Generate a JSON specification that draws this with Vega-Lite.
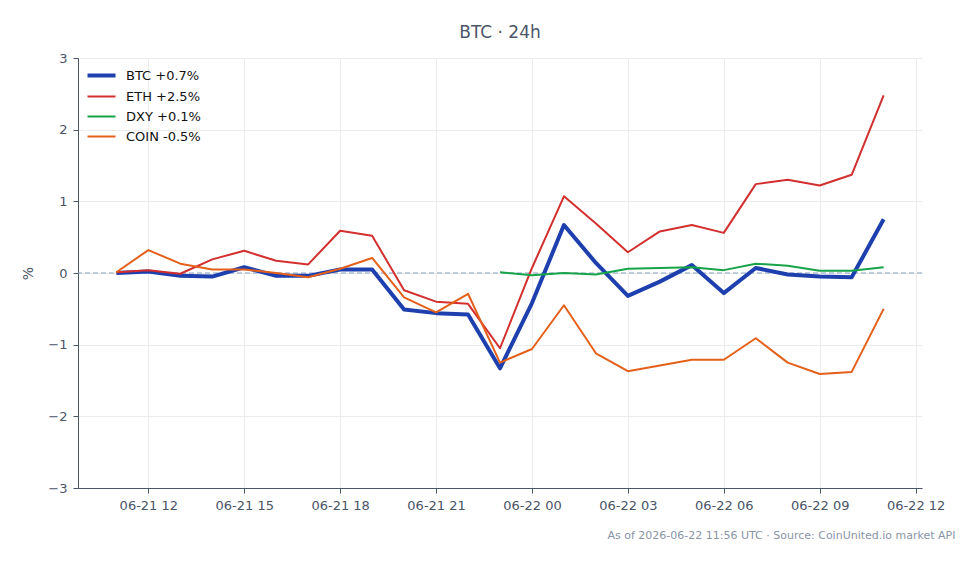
{
  "$schema": "https://vega.github.io/schema/vega-lite/v6.json",
  "autosize": "none",
  "width": 844,
  "height": 430,
  "padding": {"left": 78, "top": 58, "right": 57, "bottom": 76},
  "background": "white",
  "title": {"text": "BTC · 24h", "fontSize": 17, "fontWeight": "normal", "color": "#4a5568", "font": "DejaVu Sans", "offset": 10, "anchor": "middle"},
  "config": {
    "font": "DejaVu Sans",
    "view": {"stroke": null},
    "axis": {"labelFont": "DejaVu Sans", "labelFontSize": 13, "labelColor": "#4a5568", "domainColor": "#4a5568", "tickColor": "#4a5568", "gridColor": "#ececec", "titleColor": "#4a5568", "titleFontWeight": "normal", "tickSize": 5, "labelPadding": 6}
  },
  "datasets": {
    "lines": [
      {"t": "2026-06-21T11:00:00Z", "s": "BTC +0.7%", "v": 0.0},
      {"t": "2026-06-21T12:00:00Z", "s": "BTC +0.7%", "v": 0.02},
      {"t": "2026-06-21T13:00:00Z", "s": "BTC +0.7%", "v": -0.04},
      {"t": "2026-06-21T14:00:00Z", "s": "BTC +0.7%", "v": -0.05},
      {"t": "2026-06-21T15:00:00Z", "s": "BTC +0.7%", "v": 0.08},
      {"t": "2026-06-21T16:00:00Z", "s": "BTC +0.7%", "v": -0.04},
      {"t": "2026-06-21T17:00:00Z", "s": "BTC +0.7%", "v": -0.04},
      {"t": "2026-06-21T18:00:00Z", "s": "BTC +0.7%", "v": 0.05},
      {"t": "2026-06-21T19:00:00Z", "s": "BTC +0.7%", "v": 0.05},
      {"t": "2026-06-21T20:00:00Z", "s": "BTC +0.7%", "v": -0.51},
      {"t": "2026-06-21T21:00:00Z", "s": "BTC +0.7%", "v": -0.56},
      {"t": "2026-06-21T22:00:00Z", "s": "BTC +0.7%", "v": -0.58},
      {"t": "2026-06-21T23:00:00Z", "s": "BTC +0.7%", "v": -1.33},
      {"t": "2026-06-22T00:00:00Z", "s": "BTC +0.7%", "v": -0.42},
      {"t": "2026-06-22T01:00:00Z", "s": "BTC +0.7%", "v": 0.67},
      {"t": "2026-06-22T02:00:00Z", "s": "BTC +0.7%", "v": 0.14},
      {"t": "2026-06-22T03:00:00Z", "s": "BTC +0.7%", "v": -0.32},
      {"t": "2026-06-22T04:00:00Z", "s": "BTC +0.7%", "v": -0.12},
      {"t": "2026-06-22T05:00:00Z", "s": "BTC +0.7%", "v": 0.11},
      {"t": "2026-06-22T06:00:00Z", "s": "BTC +0.7%", "v": -0.28},
      {"t": "2026-06-22T07:00:00Z", "s": "BTC +0.7%", "v": 0.07},
      {"t": "2026-06-22T08:00:00Z", "s": "BTC +0.7%", "v": -0.02},
      {"t": "2026-06-22T09:00:00Z", "s": "BTC +0.7%", "v": -0.05},
      {"t": "2026-06-22T10:00:00Z", "s": "BTC +0.7%", "v": -0.06},
      {"t": "2026-06-22T11:00:00Z", "s": "BTC +0.7%", "v": 0.75},
      {"t": "2026-06-21T11:00:00Z", "s": "ETH +2.5%", "v": 0.01},
      {"t": "2026-06-21T12:00:00Z", "s": "ETH +2.5%", "v": 0.04},
      {"t": "2026-06-21T13:00:00Z", "s": "ETH +2.5%", "v": -0.01},
      {"t": "2026-06-21T14:00:00Z", "s": "ETH +2.5%", "v": 0.19},
      {"t": "2026-06-21T15:00:00Z", "s": "ETH +2.5%", "v": 0.31},
      {"t": "2026-06-21T16:00:00Z", "s": "ETH +2.5%", "v": 0.17},
      {"t": "2026-06-21T17:00:00Z", "s": "ETH +2.5%", "v": 0.12},
      {"t": "2026-06-21T18:00:00Z", "s": "ETH +2.5%", "v": 0.59},
      {"t": "2026-06-21T19:00:00Z", "s": "ETH +2.5%", "v": 0.52},
      {"t": "2026-06-21T20:00:00Z", "s": "ETH +2.5%", "v": -0.24},
      {"t": "2026-06-21T21:00:00Z", "s": "ETH +2.5%", "v": -0.40},
      {"t": "2026-06-21T22:00:00Z", "s": "ETH +2.5%", "v": -0.43},
      {"t": "2026-06-21T23:00:00Z", "s": "ETH +2.5%", "v": -1.05},
      {"t": "2026-06-22T00:00:00Z", "s": "ETH +2.5%", "v": 0.07},
      {"t": "2026-06-22T01:00:00Z", "s": "ETH +2.5%", "v": 1.07},
      {"t": "2026-06-22T02:00:00Z", "s": "ETH +2.5%", "v": 0.69},
      {"t": "2026-06-22T03:00:00Z", "s": "ETH +2.5%", "v": 0.29},
      {"t": "2026-06-22T04:00:00Z", "s": "ETH +2.5%", "v": 0.58},
      {"t": "2026-06-22T05:00:00Z", "s": "ETH +2.5%", "v": 0.67},
      {"t": "2026-06-22T06:00:00Z", "s": "ETH +2.5%", "v": 0.56},
      {"t": "2026-06-22T07:00:00Z", "s": "ETH +2.5%", "v": 1.24},
      {"t": "2026-06-22T08:00:00Z", "s": "ETH +2.5%", "v": 1.30},
      {"t": "2026-06-22T09:00:00Z", "s": "ETH +2.5%", "v": 1.22},
      {"t": "2026-06-22T10:00:00Z", "s": "ETH +2.5%", "v": 1.37},
      {"t": "2026-06-22T11:00:00Z", "s": "ETH +2.5%", "v": 2.48},
      {"t": "2026-06-21T23:00:00Z", "s": "DXY +0.1%", "v": 0.01},
      {"t": "2026-06-22T00:00:00Z", "s": "DXY +0.1%", "v": -0.03},
      {"t": "2026-06-22T01:00:00Z", "s": "DXY +0.1%", "v": 0.0},
      {"t": "2026-06-22T02:00:00Z", "s": "DXY +0.1%", "v": -0.02},
      {"t": "2026-06-22T03:00:00Z", "s": "DXY +0.1%", "v": 0.06},
      {"t": "2026-06-22T04:00:00Z", "s": "DXY +0.1%", "v": 0.07},
      {"t": "2026-06-22T05:00:00Z", "s": "DXY +0.1%", "v": 0.08},
      {"t": "2026-06-22T06:00:00Z", "s": "DXY +0.1%", "v": 0.04},
      {"t": "2026-06-22T07:00:00Z", "s": "DXY +0.1%", "v": 0.13},
      {"t": "2026-06-22T08:00:00Z", "s": "DXY +0.1%", "v": 0.10},
      {"t": "2026-06-22T09:00:00Z", "s": "DXY +0.1%", "v": 0.03},
      {"t": "2026-06-22T10:00:00Z", "s": "DXY +0.1%", "v": 0.03},
      {"t": "2026-06-22T11:00:00Z", "s": "DXY +0.1%", "v": 0.08},
      {"t": "2026-06-21T11:00:00Z", "s": "COIN -0.5%", "v": 0.01},
      {"t": "2026-06-21T12:00:00Z", "s": "COIN -0.5%", "v": 0.32},
      {"t": "2026-06-21T13:00:00Z", "s": "COIN -0.5%", "v": 0.13},
      {"t": "2026-06-21T14:00:00Z", "s": "COIN -0.5%", "v": 0.05},
      {"t": "2026-06-21T15:00:00Z", "s": "COIN -0.5%", "v": 0.05},
      {"t": "2026-06-21T16:00:00Z", "s": "COIN -0.5%", "v": 0.0},
      {"t": "2026-06-21T17:00:00Z", "s": "COIN -0.5%", "v": -0.06},
      {"t": "2026-06-21T18:00:00Z", "s": "COIN -0.5%", "v": 0.06},
      {"t": "2026-06-21T19:00:00Z", "s": "COIN -0.5%", "v": 0.21},
      {"t": "2026-06-21T20:00:00Z", "s": "COIN -0.5%", "v": -0.34},
      {"t": "2026-06-21T21:00:00Z", "s": "COIN -0.5%", "v": -0.55},
      {"t": "2026-06-21T22:00:00Z", "s": "COIN -0.5%", "v": -0.29},
      {"t": "2026-06-21T23:00:00Z", "s": "COIN -0.5%", "v": -1.25},
      {"t": "2026-06-22T00:00:00Z", "s": "COIN -0.5%", "v": -1.06},
      {"t": "2026-06-22T01:00:00Z", "s": "COIN -0.5%", "v": -0.45},
      {"t": "2026-06-22T02:00:00Z", "s": "COIN -0.5%", "v": -1.12},
      {"t": "2026-06-22T03:00:00Z", "s": "COIN -0.5%", "v": -1.37},
      {"t": "2026-06-22T04:00:00Z", "s": "COIN -0.5%", "v": -1.29},
      {"t": "2026-06-22T05:00:00Z", "s": "COIN -0.5%", "v": -1.21},
      {"t": "2026-06-22T06:00:00Z", "s": "COIN -0.5%", "v": -1.21},
      {"t": "2026-06-22T07:00:00Z", "s": "COIN -0.5%", "v": -0.91},
      {"t": "2026-06-22T08:00:00Z", "s": "COIN -0.5%", "v": -1.25},
      {"t": "2026-06-22T09:00:00Z", "s": "COIN -0.5%", "v": -1.41},
      {"t": "2026-06-22T10:00:00Z", "s": "COIN -0.5%", "v": -1.38},
      {"t": "2026-06-22T11:00:00Z", "s": "COIN -0.5%", "v": -0.50}
    ],
    "zero": [{"z": 0}]
  },
  "layer": [
    {
      "data": {"name": "zero"},
      "mark": {"type": "rule", "color": "#8a9fc0", "strokeWidth": 1.2, "strokeDash": [5, 3]},
      "encoding": {"y": {"field": "z", "type": "quantitative", "scale": {"domain": [-3, 3]}}}
    },
    {
      "data": {"name": "lines"},
      "mark": {"type": "line", "strokeJoin": "round"},
      "encoding": {
        "x": {
          "field": "t", "type": "temporal",
          "scale": {"type": "utc", "domain": [{"year": 2026, "month": 6, "date": 21, "hours": 9, "minutes": 48, "utc": true}, {"year": 2026, "month": 6, "date": 22, "hours": 12, "minutes": 12, "utc": true}]},
          "axis": {
            "format": "%m-%d %H",
            "values": [
              {"year": 2026, "month": 6, "date": 21, "hours": 12, "utc": true},
              {"year": 2026, "month": 6, "date": 21, "hours": 15, "utc": true},
              {"year": 2026, "month": 6, "date": 21, "hours": 18, "utc": true},
              {"year": 2026, "month": 6, "date": 21, "hours": 21, "utc": true},
              {"year": 2026, "month": 6, "date": 22, "hours": 0, "utc": true},
              {"year": 2026, "month": 6, "date": 22, "hours": 3, "utc": true},
              {"year": 2026, "month": 6, "date": 22, "hours": 6, "utc": true},
              {"year": 2026, "month": 6, "date": 22, "hours": 9, "utc": true},
              {"year": 2026, "month": 6, "date": 22, "hours": 12, "utc": true}
            ],
            "labelOverlap": false,
            "title": "As of 2026-06-22 11:56 UTC · Source: CoinUnited.io market API",
            "titleFontSize": 11, "titleColor": "#8a94a6", "titleFont": "DejaVu Sans",
            "titleAnchor": "end", "titleAlign": "right", "titleBaseline": "alphabetic",
            "titleX": 877, "titleY": 50,
            "grid": true
          }
        },
        "y": {
          "field": "v", "type": "quantitative",
          "scale": {"domain": [-3, 3], "nice": false},
          "axis": {"title": "%", "titleFontSize": 14, "titleAngle": -90, "titlePadding": 12, "values": [-3, -2, -1, 0, 1, 2, 3], "format": "d", "labelOverlap": false, "grid": true}
        },
        "color": {
          "field": "s", "type": "nominal",
          "scale": {"domain": ["BTC +0.7%", "ETH +2.5%", "DXY +0.1%", "COIN -0.5%"], "range": ["#1e40af", "#d32f2f", "#16a34a", "#e4601a"]},
          "legend": {
            "title": null, "orient": "none", "legendX": 15, "legendY": 9, "padding": 2,
            "symbolType": "M-2,0H2", "symbolSize": 196, "symbolStrokeWidth": 2,
            "labelFontSize": 13, "labelColor": "#111111", "labelFont": "DejaVu Sans", "rowPadding": 6, "labelOffset": 18,
            "encode": {"symbols": {"update": {"strokeWidth": {"signal": "datum.value === 'BTC +0.7%' ? 4 : 2"}}}}
          }
        },
        "strokeWidth": {"condition": {"test": "datum.s === 'BTC +0.7%'", "value": 4}, "value": 2}
      }
    }
  ]
}
